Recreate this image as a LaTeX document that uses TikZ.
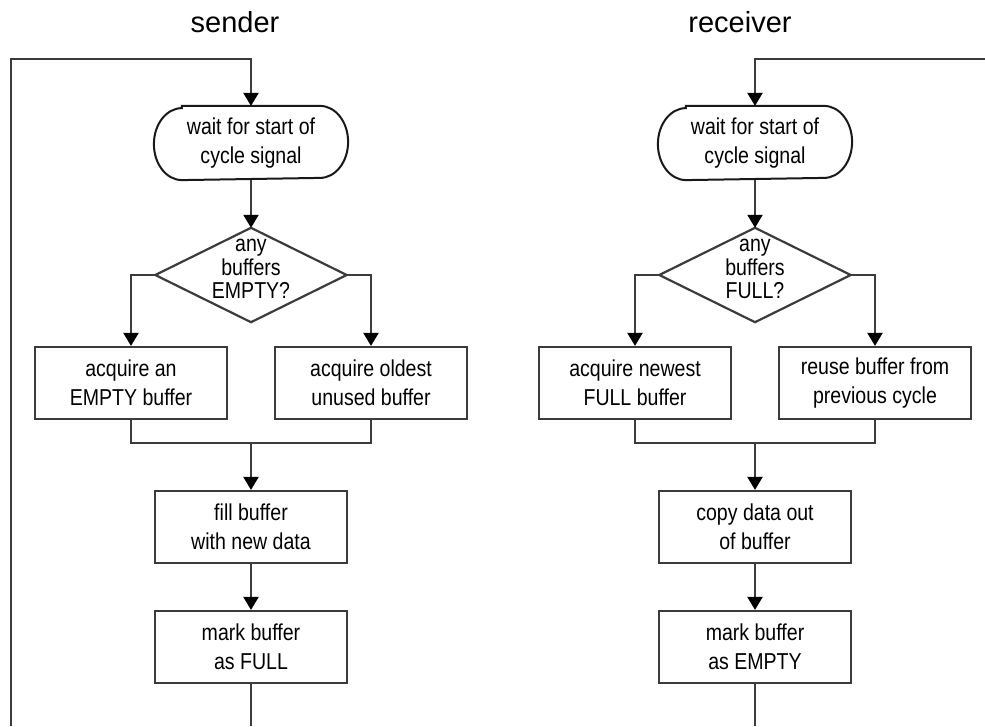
\documentclass[tikz,border=0pt]{standalone}
\usepackage{fontspec}
\setmainfont{Liberation Sans}
\newfontfamily\boxfont[FakeStretch=0.85]{Liberation Sans}
\usetikzlibrary{arrows.meta}
\definecolor{linegray}{RGB}{60,60,60}

\begin{document}
\begin{tikzpicture}[x=1pt,y=1pt,
  flow/.style={draw=linegray, line width=2.2pt},
  arr/.style={flow, -{Triangle[length=13pt,width=15pt,black]}},
  txt/.style={inner sep=0pt, align=center, text=black},
  proc/.style={txt, draw=linegray, line width=2.2pt, minimum width=192pt, minimum height=72pt,
    font=\boxfont\fontsize{23}{29}\selectfont},
  term/.style={proc, draw=none},
  termline/.style={draw=black!90, line width=2pt},
  dec/.style={txt, minimum width=191pt, minimum height=94pt},
  dtext/.style={txt, font=\boxfont\fontsize{23}{23.5}\selectfont},
  title/.style={anchor=base, text=black, font=\fontsize{29}{31}\selectfont}]

\useasboundingbox (0,0) rectangle (985,-726);

% column headings
\node[title] (ts) at (235,-32) {sender};
\node[title] (tr) at (740,-32) {receiver};

% ---------------- sender ----------------
\node[term] (t1) at (251,-143) {wait for start of\\cycle signal};
\draw[termline] ([xshift=28pt]t1.north west) -- ([xshift=-28pt]t1.north east)
  arc[start angle=90, end angle=-90, x radius=28pt, y radius=36pt]
  -- ([xshift=28pt]t1.south west)
  arc[start angle=270, end angle=90, x radius=28pt, y radius=36pt] -- cycle;

\node[dec] (d1) at (251,-275) {};
\draw[flow] (d1.north) -- (d1.east) -- (d1.south) -- (d1.west) -- cycle;
\node[dtext] (d1t) at ([yshift=6pt]d1.center) {any\\buffers\\EMPTY?};

\node[proc] (a1) at (131,-383) {acquire an\\EMPTY buffer};
\node[proc] (a2) at (371,-383) {acquire oldest\\unused buffer};
\node[proc] (f1) at (251,-527) {fill buffer\\with new data};
\node[proc] (k1) at (251,-647) {mark buffer\\as FULL};

\coordinate (m1) at (251,-443);
\coordinate (ltop) at (11,-59);
\coordinate (lbot) at (11,-726);
\coordinate (sbot) at (251,-726);

\draw[arr] (lbot) -- (ltop) -| (t1.north);
\draw[arr] (t1.south) -- (d1.north);
\draw[arr] (d1.west) -| (a1.north);
\draw[arr] (d1.east) -| (a2.north);
\draw[flow] (a1.south) |- (m1) -| (a2.south);
\draw[arr] (m1) -- (f1.north);
\draw[arr] (f1.south) -- (k1.north);
\draw[flow] (k1.south) -- (sbot);

% ---------------- receiver ----------------
\node[term] (t2) at (755,-143) {wait for start of\\cycle signal};
\draw[termline] ([xshift=28pt]t2.north west) -- ([xshift=-28pt]t2.north east)
  arc[start angle=90, end angle=-90, x radius=28pt, y radius=36pt]
  -- ([xshift=28pt]t2.south west)
  arc[start angle=270, end angle=90, x radius=28pt, y radius=36pt] -- cycle;

\node[dec] (d2) at (755,-275) {};
\draw[flow] (d2.north) -- (d2.east) -- (d2.south) -- (d2.west) -- cycle;
\node[dtext] (d2t) at ([yshift=6pt]d2.center) {any\\buffers\\FULL?};

\node[proc] (b1) at (635,-383) {acquire newest\\FULL buffer};
\node[proc] (b2) at (875,-383) {reuse buffer from\\previous cycle};
\node[proc] (f2) at (755,-527) {copy data out\\of buffer};
\node[proc] (k2) at (755,-647) {mark buffer\\as EMPTY};

\coordinate (m2) at (755,-443);
\coordinate (rtop) at (985,-59);
\coordinate (rbot) at (755,-726);

\draw[arr] (rtop) -| (t2.north);
\draw[arr] (t2.south) -- (d2.north);
\draw[arr] (d2.west) -| (b1.north);
\draw[arr] (d2.east) -| (b2.north);
\draw[flow] (b1.south) |- (m2) -| (b2.south);
\draw[arr] (m2) -- (f2.north);
\draw[arr] (f2.south) -- (k2.north);
\draw[flow] (k2.south) -- (rbot);
\end{tikzpicture}
\end{document}
